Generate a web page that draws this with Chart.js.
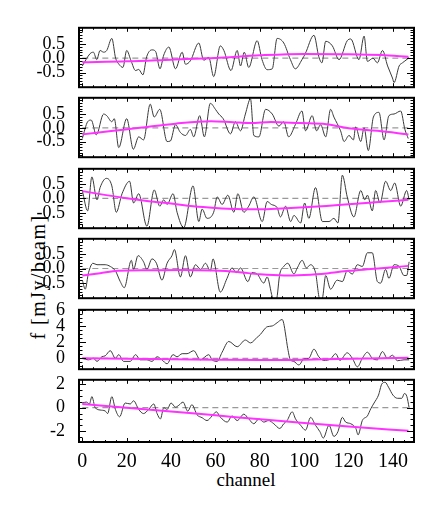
<!DOCTYPE html>
<html>
<head>
<meta charset="utf-8">
<script src="https://cdn.jsdelivr.net/npm/chart.js@4.4.1/dist/chart.umd.min.js"></script>
<style>
  body { margin: 0; background: #fff; }
  #fig { position: relative; width: 436px; height: 509px; font-family: 'Liberation Serif', serif; overflow: hidden; }
  #fig canvas { position: absolute; left: 0; }
  .lbl { position: absolute; color: #000; white-space: nowrap; transform: translate(-50%, -50%); }
  #xTitle { left: 246px; top: 480px; font-size: 19px; }
  #yTitle { left: 38px; top: 277px; font-size: 20px; letter-spacing: 1.5px; transform: translate(-50%, -50%) rotate(-90deg); }
</style>
</head>
<body>
<div id="fig">
  <div class="lbl" id="xTitle">channel</div>
  <div class="lbl" id="yTitle">f [mJy/beam]</div>
</div>
<script>
// channel axis ticks
const xTicks = [0, 20, 40, 60, 80, 100, 120, 140];

// panel 1
const p1Chan = [0, 3.5, 5, 6.5, 8, 9.6, 11, 13.3, 15, 16.5, 18.3, 20, 22, 24, 25.4, 27.3, 29, 31.4, 33, 35, 36.7, 39, 42, 45, 46.5, 48.7, 52.5, 54.7, 57, 59.2, 62.2, 63.8, 67, 69.8, 71.3, 73, 75, 78.8, 81, 83.3, 85.6, 87.8, 90.8, 93.8, 96, 99, 100.5, 104.4, 106.6, 108, 109.7, 112.7, 115.7, 119.4, 121, 124.7, 127, 128.5, 131, 133, 135.3, 137.6, 139.8, 140.5, 142.8, 144.3, 146.5, 147.3];
const p1Flux = [-0.27, 0.16, 0.21, -0.05, 0.27, 0.21, 0.27, 0.69, 0.0, -0.21, -0.32, 0.27, -0.1, -0.43, -0.39, -0.58, 0.05, 0.29, 0.24, -0.37, 0.11, 0.39, -0.37, 0.21, -0.21, -0.09, 0.53, -0.07, 0.03, -0.64, 0.43, 0.27, -0.43, 0.27, -0.27, 0.21, -0.32, 0.61, -0.05, -0.40, -0.37, 0.69, 0.53, -0.05, -0.37, -0.05, 0.16, 0.80, 0.05, -0.16, 0.59, 0.43, -0.05, 0.61, 0.67, -0.05, 0.77, -0.11, 0.0, -0.16, 0.27, -0.27, -0.69, -0.85, -0.27, -0.16, -0.03, 0.03];
const p1FitChan = [0, 20, 40, 60, 80, 100, 120, 135, 147];
const p1Fit = [-0.14, -0.11, -0.05, 0.01, 0.1, 0.15, 0.14, 0.11, 0.05];

// panel 2
const p2Chan = [0, 2.4, 4, 6.3, 9.6, 11, 13.3, 14.4, 16.4, 20, 23, 25.4, 27.6, 30.6, 32.4, 34.9, 38.2, 39.7, 42, 44.2, 46.5, 48.7, 50.2, 52.9, 55, 57.7, 60, 61.5, 63.5, 66.8, 69, 71.3, 73.5, 75.8, 77.3, 79.6, 82.6, 85.6, 88.6, 90.8, 93, 96, 99, 100.6, 103.6, 105.6, 107.4, 109.7, 111.9, 113.4, 116.4, 118, 120.2, 122.2, 123.2, 125.5, 127, 128.9, 131.2, 133.7, 136, 138.2, 140.5, 143.5, 145.4, 146.9];
const p2Flux = [-0.39, 0.22, 0.28, -0.26, 0.5, 0.44, 0.22, 0.33, -0.72, 0.33, -0.78, -0.33, -0.44, 0.86, 0.39, 0.67, -0.5, -0.48, 0.11, -0.17, -0.28, -0.06, -0.33, 0.44, -0.33, 0.89, 0.67, 0.5, 0.33, -0.22, 0.22, -0.11, 0.5, 1.05, -0.28, -0.33, 0.67, 0.5, 0.06, 0.22, -0.33, 0.11, 0.61, -0.11, 0.44, -0.11, 0.11, -0.33, 0.67, 0.39, -0.11, -0.5, -0.28, -0.44, 0.03, -0.5, 0.0, -0.83, 0.39, 0.56, -0.44, 0.44, 0.5, 0.61, -0.06, -0.39];
const p2FitChan = [0, 13, 26, 42, 58, 68, 76, 85, 98, 110, 121, 133, 147];
const p2Fit = [-0.24, -0.12, 0.0, 0.15, 0.24, 0.2, 0.17, 0.21, 0.17, 0.13, -0.03, -0.11, -0.24];

// panel 3
const p3Chan = [0, 2.4, 4.3, 6.6, 8, 10.8, 13.3, 15.3, 17.9, 21.3, 23.1, 25.4, 29.1, 32.4, 34.9, 36.7, 38.2, 40.9, 42.7, 45.7, 49.9, 52.5, 54, 56.2, 59.2, 60.8, 63, 65.6, 68.3, 70.1, 72.8, 75, 77.3, 81.1, 83.3, 85.2, 87.8, 89.3, 91.6, 93.9, 95.4, 98.4, 100.2, 102.1, 105.1, 108.2, 111.2, 113.4, 115.2, 117.2, 119.4, 122.4, 125.5, 127.3, 128.5, 130.7, 132.2, 134.2, 136.7, 139, 140.8, 143.5, 146.2, 147.3];
const p3Flux = [0.27, -0.43, 0.74, -0.05, 0.37, 0.69, 0.43, -0.48, 0.16, 0.59, -0.16, 0.16, -0.96, 0.29, -0.27, -0.05, -0.21, 0.16, -0.48, -1.01, 0.43, -0.8, -0.37, -0.69, -0.48, 0.05, -0.21, 0.11, -0.48, 0.16, -0.48, -0.27, 0.05, -0.8, -0.11, -0.21, -0.32, -0.64, -0.27, -0.8, -0.59, -0.85, -0.16, -0.69, 0.37, -0.8, -0.8, -0.69, -0.85, 0.8, 0.05, -0.64, 0.27, -0.05, 0.11, -0.43, 0.27, -0.16, 0.59, 0.27, 0.53, -0.27, 0.27, -0.05];
const p3FitChan = [0, 10, 20, 30, 40, 50, 60, 70, 80, 90, 100, 110, 120, 135, 147];
const p3Fit = [0.25, 0.12, 0.0, -0.1, -0.18, -0.27, -0.33, -0.37, -0.38, -0.35, -0.31, -0.26, -0.2, -0.12, -0.05];

// panel 4
const p4Chan = [0, 1.3, 2.8, 4.8, 6.6, 8, 10.3, 12.6, 14.9, 17.1, 18.9, 22.1, 23.1, 25.1, 27.6, 29.1, 31.4, 33.4, 35.9, 38.2, 40.4, 41.5, 44.2, 46.5, 48.7, 51, 53.3, 55.5, 57.7, 58.9, 62.2, 65.2, 67.5, 69.4, 71.3, 74.6, 76.5, 78.8, 81.8, 83.3, 85.6, 86.5, 87.5, 89, 90.8, 92.6, 95.4, 96.9, 99.1, 101, 102.9, 105.1, 107.1, 108.2, 109.7, 111.9, 114.9, 117.2, 119.4, 121.7, 124, 126.2, 128.5, 130.7, 133, 134.5, 136.7, 138.2, 140.5, 142.8, 145, 146.2, 147.3];
const p4Flux = [-0.40, -0.71, -0.14, 0.18, 0.13, 0.13, 0.13, 0.07, -0.08, -0.45, -0.66, 0.28, -0.03, 0.44, 0.23, -0.03, 0.33, 0.18, -0.40, 0.18, 0.44, 0.65, -0.29, 0.44, -0.29, 0.13, -0.03, 0.18, -0.08, 0.33, -0.81, -0.34, 0.02, -0.14, 0.02, -0.45, -0.14, -0.19, -0.5, -0.29, -0.97, -1.12, -1.07, -0.19, 0.07, 0.18, -0.19, 0.02, 0.28, 0.02, 0.13, -0.14, -1.07, -1.02, -0.24, -0.71, -0.40, -0.45, -0.08, -0.19, 0.13, 0.07, 0.54, 0.54, -0.45, -0.5, -0.03, -0.34, 0.13, 0.07, -0.24, -0.24, 0.23];
const p4FitChan = [0, 8, 16, 30, 45, 59, 70, 80, 91, 100, 110, 120, 130, 140, 147];
const p4Fit = [-0.24, -0.16, -0.08, -0.06, -0.05, -0.07, -0.12, -0.2, -0.24, -0.22, -0.17, -0.08, -0.02, 0.04, 0.09];

// panel 5
const p5Chan = [0, 2.8, 5, 6.6, 8.8, 10.3, 12.6, 14.9, 16.4, 18.6, 21.6, 24, 26.1, 29.1, 31.4, 33.7, 35.9, 38.2, 40.9, 42.7, 45, 47.2, 50.2, 53.2, 57, 58.5, 60.8, 63, 66, 69.8, 73.5, 75.8, 78.8, 80.3, 81.8, 83.3, 85.6, 87.8, 90.1, 90.8, 91.6, 92.6, 93.8, 95.3, 97.6, 99.9, 102.1, 104.4, 106.6, 108.9, 111.9, 114.2, 116.1, 119.4, 121.7, 124, 126.2, 128.5, 130.7, 133, 135.3, 137.5, 139.8, 142, 145, 147.3];
const p5Flux = [0.0, -0.19, 0.0, -0.38, 0.19, 0.3, 0.94, 0.0, 0.45, -0.38, -0.38, 0.45, -0.19, -0.19, -0.38, 0.19, -0.19, -0.68, 0.45, 0.19, 0.57, 0.57, 0.94, -0.19, 0.45, -0.19, -0.38, 0.75, 2.08, 1.43, 2.26, 1.9, 2.6, 2.96, 3.5, 3.9, 4.0, 4.4, 4.8, 4.3, 3.0, 1.2, -0.2, -0.38, -0.83, -0.08, 0.0, 1.13, 0.19, -0.26, -0.08, 0.57, -0.26, 0.68, 0.0, -1.06, 0.0, 0.75, 0.0, -0.19, 0.83, 0.0, 0.38, -0.3, -0.19, -0.19];
const p5FitChan = [0, 30, 60, 80, 95, 115, 130, 147];
const p5Fit = [0.02, -0.08, -0.18, -0.22, -0.2, -0.1, -0.02, 0.06];

// panel 6
const p6Chan = [0, 1.8, 3.2, 4.3, 5.8, 8, 10.3, 11.4, 13.3, 14.9, 16.8, 19.3, 21.6, 23.1, 25.4, 27.6, 29.9, 32.2, 33.7, 35.2, 36.7, 38.2, 40, 42, 43.5, 45.4, 47.5, 49.4, 51.7, 54, 56.2, 58.5, 60.4, 62.2, 65.3, 67.5, 69.8, 72.8, 75, 77.3, 79.6, 81.8, 84, 86.3, 89, 90.8, 92.3, 94.6, 96.1, 98.4, 100.6, 102.9, 105.1, 107.1, 108.6, 111.2, 113.4, 115.2, 117.2, 118.7, 121, 123.3, 124.3, 126.2, 128.5, 130, 131.5, 133.5, 135, 136.5, 138, 140, 142, 144, 145.2, 146.3, 147.3];
const p6Flux = [0.39, 0.47, 0.31, 0.93, 0.0, -0.2, -0.28, -0.5, 0.93, -0.15, -0.77, 0.39, 0.31, 0.58, -0.15, -0.5, -0.15, 0.31, -0.5, -0.95, -0.01, -0.15, 0.39, 0.04, 0.2, 0.47, -0.3, 0.25, -0.6, -0.85, -1.09, -0.7, -0.35, -0.8, -1.22, -0.7, -1.09, -0.55, -0.95, -1.36, -0.95, -1.22, -1.09, -1.36, -1.76, -1.36, -1.09, -0.35, -0.95, -1.49, -1.9, -0.82, -1.49, -2.03, -2.57, -1.49, -2.43, -2.03, -0.82, -1.22, -1.36, -1.76, -2.3, -1.09, -0.7, -0.1, 0.39, 1.06, 2.0, 2.14, 1.73, 1.06, 0.79, 0.79, 1.2, 0.93, 0.0];
const p6FitChan = [0, 20, 40, 60, 83, 100, 120, 147];
const p6Fit = [0.31, 0.0, -0.32, -0.65, -1.03, -1.3, -1.6, -1.95];

// y tick values per panel
const smallTicks = [-0.5, 0, 0.5];
const p5Ticks = [0, 2, 4, 6];
const p6Ticks = [-2, 0, 2];

const panels = [
  { chan: p1Chan, flux: p1Flux, fitChan: p1FitChan, fit: p1Fit, yMin: -1.01, yMax: 1.06, ticks: smallTicks, minor: 0.1, digits: 1 },
  { chan: p2Chan, flux: p2Flux, fitChan: p2FitChan, fit: p2Fit, yMin: -1.07, yMax: 1.09, ticks: smallTicks, minor: 0.1, digits: 1 },
  { chan: p3Chan, flux: p3Flux, fitChan: p3FitChan, fit: p3Fit, yMin: -1.03, yMax: 1.02, ticks: smallTicks, minor: 0.1, digits: 1 },
  { chan: p4Chan, flux: p4Flux, fitChan: p4FitChan, fit: p4Fit, yMin: -1.02, yMax: 1.02, ticks: smallTicks, minor: 0.1, digits: 1 },
  { chan: p5Chan, flux: p5Flux, fitChan: p5FitChan, fit: p5Fit, yMin: -1.35, yMax: 6.0, ticks: p5Ticks, minor: 0.5, digits: 0 },
  { chan: p6Chan, flux: p6Flux, fitChan: p6FitChan, fit: p6Fit, yMin: -2.9, yMax: 2.35, ticks: p6Ticks, minor: 0.5, digits: 0 }
];

const panelTops = [25, 95, 166, 236, 307, 377];
const panelH = 65;
const pad = 14;

// inward IDL-style ticks and the frame
const boxTicks = {
  id: 'boxTicks',
  afterDatasetsDraw(chart, args, opts) {
    const { ctx, chartArea: a, scales: { x, y } } = chart;
    ctx.save();
    ctx.strokeStyle = '#000';
    ctx.lineWidth = 1;
    ctx.beginPath();
    for (let v = 0; v <= 145; v += 5) {
      const px = Math.round(x.getPixelForValue(v)) + 0.5;
      const len = v % 20 === 0 ? 4 : 2;
      ctx.moveTo(px, a.bottom); ctx.lineTo(px, a.bottom - len);
      ctx.moveTo(px, a.top); ctx.lineTo(px, a.top + len);
    }
    const start = Math.ceil(y.min / opts.minor) * opts.minor;
    for (let v = start; v <= y.max + 1e-9; v += opts.minor) {
      const major = opts.ticks.some(t => Math.abs(t - v) < 1e-6);
      const py = Math.round(y.getPixelForValue(v)) + 0.5;
      const len = major ? 7 : 3.5;
      ctx.moveTo(a.left, py); ctx.lineTo(a.left + len, py);
      ctx.moveTo(a.right, py); ctx.lineTo(a.right - len, py);
    }
    ctx.stroke();
    ctx.lineWidth = 2;
    ctx.strokeRect(a.left, a.top, a.right - a.left, a.bottom - a.top);
    ctx.restore();
  }
};

const fig = document.getElementById('fig');

panels.forEach((p, i) => {
  const last = i === panels.length - 1;
  const canvas = document.createElement('canvas');
  const h = pad + panelH + (last ? 30 : pad);
  canvas.width = 436;
  canvas.height = h;
  canvas.style.top = (panelTops[i] - pad) + 'px';
  fig.appendChild(canvas);

  const spec = p.chan.map((c, k) => ({ x: c, y: p.flux[k] }));
  const fitPts = p.fitChan.map((c, k) => ({ x: c, y: p.fit[k] }));
  const zero = [p.chan[0], p.chan[p.chan.length - 1]].map(c => ({ x: c, y: 0 }));

  new Chart(canvas, {
    type: 'line',
    data: {
      datasets: [
        { data: fitPts, borderColor: '#ff33ff', borderWidth: 2, cubicInterpolationMode: 'monotone', order: 0 },
        { data: spec, borderColor: '#3a3a3a', borderWidth: 1, cubicInterpolationMode: 'monotone', order: 1 },
        { data: zero, borderColor: '#999999', borderWidth: 1.2, borderDash: [6, 4], order: 2 }
      ]
    },
    options: {
      responsive: false,
      animation: false,
      devicePixelRatio: 1,
      parsing: false,
      layout: { padding: { top: pad, bottom: last ? 0 : pad, left: 0, right: 22 } },
      elements: { point: { radius: 0 } },
      plugins: {
        legend: { display: false },
        tooltip: { enabled: false },
        boxTicks: { ticks: p.ticks, minor: p.minor }
      },
      scales: {
        x: {
          type: 'linear', min: -1.5, max: 149.5, display: last,
          grid: { display: false }, border: { display: false },
          afterBuildTicks: s => { s.ticks = xTicks.map(v => ({ value: v })); },
          afterFit: s => { s.height = last ? 30 : 0; },
          ticks: {
            padding: 0, color: '#000', maxRotation: 0, autoSkip: false,
            font: { family: 'Liberation Serif', size: 20 },
            callback: v => String(v)
          }
        },
        y: {
          type: 'linear', min: p.yMin, max: p.yMax,
          grid: { display: false }, border: { display: false },
          afterBuildTicks: s => { s.ticks = p.ticks.map(v => ({ value: v })); },
          afterFit: s => { s.width = 79; },
          ticks: {
            padding: 6, color: '#000', autoSkip: false,
            font: { family: 'Liberation Serif', size: 18 },
            callback: v => v.toFixed(p.digits)
          }
        }
      }
    },
    plugins: [boxTicks]
  });
});
</script>
</body>
</html>
